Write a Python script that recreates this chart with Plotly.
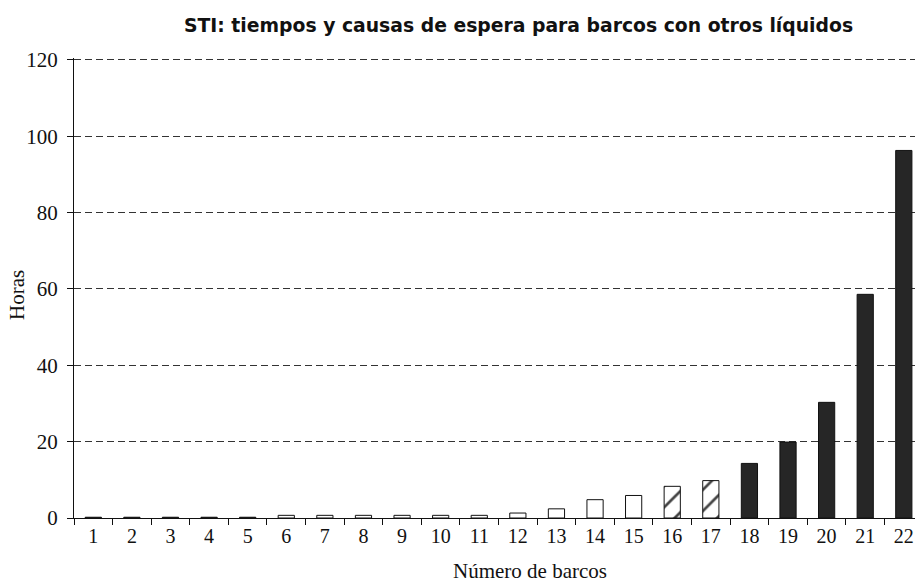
import plotly.graph_objects as go

barcos = [str(i) for i in range(1, 23)]
horas = [0.2, 0.2, 0.2, 0.2, 0.2, 0.7, 0.7, 0.7, 0.7, 0.7, 0.7, 1.3,
         2.4, 4.8, 5.9, 8.3, 9.8, 14.3, 19.9, 30.3, 58.6, 96.3]
# style group per ship: "d" dark, "w" white, "h" hatched
grupo = ["d"] * 5 + ["w"] * 10 + ["h"] * 2 + ["d"] * 5

title_text = "STI: tiempos y causas de espera para barcos con otros líquidos"
x_title = "Número de barcos"
y_title = "Horas"
y_ticks = [0, 20, 40, 60, 80, 100, 120]

DARK = "#262626"
INK = "#111111"
colors = [DARK if g == "d" else "white" for g in grupo]
shapes = ["/" if g == "h" else "" for g in grupo]

fig = go.Figure()
fig.add_trace(go.Bar(
    x=barcos, y=horas, width=0.42,
    marker=dict(
        color=colors,
        line=dict(color=INK, width=1),
        pattern=dict(shape=shapes, fgcolor="#000000", fgopacity=1, bgcolor="white",
                     size=15, solidity=0.18, fillmode="overlay"),
    ),
    showlegend=False,
))

SERIF = "Liberation Serif"
fig.update_layout(
    width=915, height=585,
    paper_bgcolor="white", plot_bgcolor="white",
    margin=dict(l=74, r=0, t=58, b=67),
    font=dict(family=SERIF, size=20, color=INK),
    annotations=[
        dict(text="<b>" + title_text + "</b>", xref="paper", yref="paper",
             x=0.528, y=1.0, xanchor="center", yanchor="middle", yshift=33,
             showarrow=False,
             font=dict(family="DejaVu Sans", size=18.8, color=INK)),
        dict(text=x_title, xref="paper", yref="paper",
             x=0.542, y=0.0, xanchor="center", yanchor="middle", yshift=-53,
             showarrow=False, font=dict(family=SERIF, size=21, color=INK)),
        dict(text=y_title, xref="paper", yref="paper",
             x=0.0, y=0.485, xanchor="center", yanchor="middle", xshift=-57,
             textangle=-90, showarrow=False,
             font=dict(family=SERIF, size=21, color=INK)),
    ],
)

fig.update_xaxes(
    type="category", range=[-0.5, 21.29], automargin=False,
    showline=True, linecolor=INK, linewidth=1.3,
    ticks="outside", tickson="boundaries", ticklen=6, tickcolor=INK,
    showgrid=False,
    tickfont=dict(family=SERIF, size=20),
)
fig.update_yaxes(
    range=[0, 120.52], tickvals=y_ticks, automargin=False,
    showline=True, linecolor=INK, linewidth=1.3,
    ticks="outside", ticklen=6, tickcolor=INK, ticklabelstandoff=5,
    showgrid=True, gridcolor="#333333", griddash="7px,4px", gridwidth=1,
    zeroline=False,
    tickfont=dict(family=SERIF, size=21),
)

fig.write_html(
    "out.html",
    config={"displayModeBar": False},
    post_script="document.body.style.margin='0';document.body.style.overflow='hidden';",
)
